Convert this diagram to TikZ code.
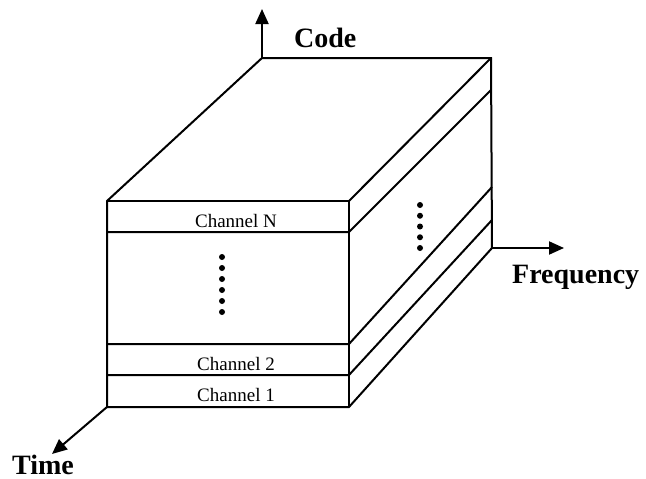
\documentclass[tikz,border=0pt]{standalone}
\usepackage{fontspec}
\setmainfont{Liberation Serif}
\usetikzlibrary{arrows.meta}
\begin{document}
\begin{tikzpicture}[x=1pt,y=-1pt,
  edge/.style={line width=2pt,line join=miter},
  axis/.style={line width=2pt,-{Triangle[length=15pt,width=13pt]}},
  chlabel/.style={anchor=base,inner sep=0pt,font=\fontsize{19}{19}\selectfont},
  axlabel/.style={anchor=base west,inner sep=0pt,font=\fontsize{28}{28}\selectfont\bfseries},
  dot/.style={fill=black,circle,inner sep=0pt,minimum size=6pt}]
\useasboundingbox (0,0) rectangle (646,479);

% corners of the block
\coordinate (FTL) at (107,201);
\coordinate (FTR) at (349,201);
\coordinate (FBL) at (107,407);
\coordinate (FBR) at (349,407);
\coordinate (BTL) at (262,58);
\coordinate (BTR) at (491,58);
\coordinate (BBR) at (492,248);

% channel boundaries on the front face
\coordinate (NL) at (107,232);  \coordinate (NR) at (349,232);
\coordinate (TwoL) at (107,344); \coordinate (TwoR) at (349,344);
\coordinate (OneL) at (107,375); \coordinate (OneR) at (349,375);
% and where they end on the side face
\coordinate (NB) at (491,90);
\coordinate (TwoB) at (492,187);
\coordinate (OneB) at (492,220);

% axis tips
\coordinate (CodeTip) at (262,9);
\coordinate (FreqTip) at (564,248);
\coordinate (TimeTip) at (52,454);

% outline of the block
\draw[edge] (FBL) -- (FTL) -- (BTL) -- (BTR) -- (BBR) -- (FBR) -- cycle;
\draw[edge] (FTL) -- (FTR) -- (FBR);
\draw[edge] (FTR) -- (BTR);

% channel slices
\draw[edge] (NL) -- (NR) -- (NB);
\draw[edge] (TwoL) -- (TwoR) -- (TwoB);
\draw[edge] (OneL) -- (OneR) -- (OneB);

% axes
\draw[axis] (BTL) -- (CodeTip);
\draw[axis] (BBR) -- (FreqTip);
\draw[axis] (FBL) -- (TimeTip);

% labels
\node[chlabel] (chN) at (236,227) {Channel N};
\node[chlabel] (ch2) at (236,370) {Channel 2};
\node[chlabel] (ch1) at (236,401) {Channel 1};
\node[axlabel] (code) at (294,47) {Code};
\node[axlabel] (freq) at (512,283) {Frequency};
\node[axlabel] (time) at (12,474) {Time};

% ellipsis dots
\foreach \k in {0,...,5} \node[dot] (fd\k) at (222,257+11*\k) {};
\foreach \k in {0,...,4} \node[dot] (sd\k) at (420,205+10.75*\k) {};
\end{tikzpicture}
\end{document}
